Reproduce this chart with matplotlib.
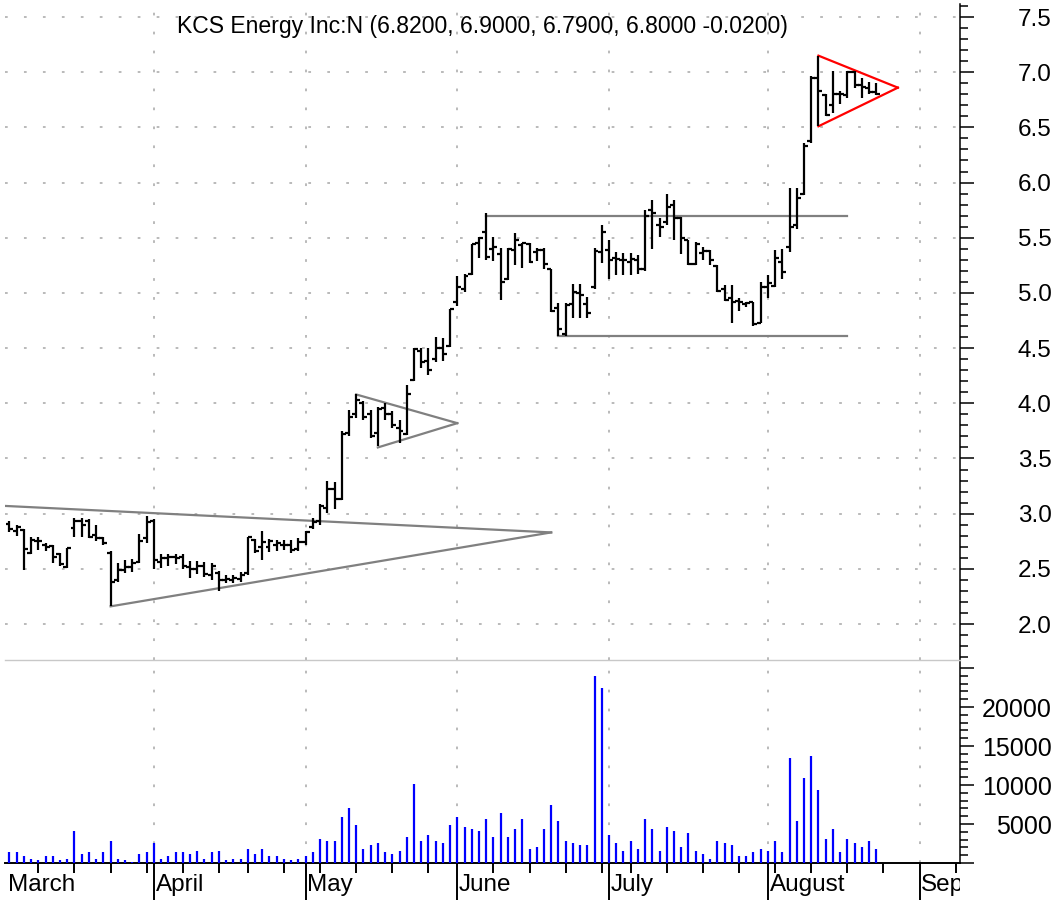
import matplotlib
matplotlib.use('Agg')
import matplotlib.pyplot as plt
from matplotlib.ticker import FixedLocator, MultipleLocator, FormatStrFormatter, FuncFormatter
from matplotlib.transforms import Bbox, TransformedBbox
import numpy as np
import pandas as pd

plt.rcParams['font.family'] = ['Liberation Sans', 'DejaVu Sans']

title = 'KCS Energy Inc:N (6.8200, 6.9000, 6.7900, 6.8000 -0.0200)'
first_day = '2003-03-04'
last_axis_day = '2003-09-08'
holidays = ['2003-04-18', '2003-05-26', '2003-07-04']
month_names = ['March', 'April', 'May', 'June', 'July', 'August', 'Sep']

# daily OHLC (Mar 4 .. Aug 22, 2003)
opens = [2.91, 2.84, 2.85, 2.64, 2.75, 2.72, 2.71, 2.63, 2.52, 2.87,
         2.93, 2.93, 2.81, 2.78, 2.64, 2.40, 2.49, 2.52, 2.56, 2.78,
         2.93, 2.56, 2.60, 2.61, 2.61, 2.52, 2.50, 2.53, 2.44, 2.46,
         2.40, 2.40, 2.41, 2.46, 2.76, 2.70, 2.70, 2.72, 2.72, 2.72,
         2.68, 2.74, 2.88, 2.93, 3.05, 3.22, 3.13, 3.73, 3.90, 4.00,
         3.90, 3.73, 3.96, 3.90, 3.78, 3.72, 4.21, 4.47, 4.38, 4.40,
         4.50, 4.52, 4.92, 5.04, 5.17, 5.45, 5.55, 5.40, 5.35, 5.13,
         5.39, 5.43, 5.44, 5.37, 5.39, 5.22, 4.86, 4.63, 4.90, 5.00,
         4.90, 5.05, 5.37, 5.39, 5.32, 5.30, 5.28, 5.30, 5.22, 5.75,
         5.62, 5.64, 5.80, 5.68, 5.48, 5.26, 5.36, 5.38, 5.24, 5.04,
         4.95, 4.93, 4.90, 4.92, 4.73, 5.05, 5.06, 5.28, 5.42, 5.62,
         5.90, 6.38, 6.95, 6.79, 6.70, 6.80, 6.79, 7.00, 6.88, 6.86,
         6.82]
highs = [2.93, 2.90, 2.86, 2.79, 2.79, 2.73, 2.72, 2.64, 2.69, 2.96,
         2.96, 2.95, 2.90, 2.79, 2.66, 2.55, 2.58, 2.59, 2.82, 2.98,
         2.95, 2.63, 2.63, 2.63, 2.63, 2.57, 2.57, 2.56, 2.55, 2.48,
         2.44, 2.44, 2.47, 2.79, 2.77, 2.84, 2.77, 2.76, 2.76, 2.76,
         2.78, 2.84, 2.96, 3.09, 3.30, 3.29, 3.75, 3.94, 4.08, 4.02,
         3.94, 3.97, 4.00, 3.93, 3.85, 4.17, 4.50, 4.50, 4.50, 4.60,
         4.59, 4.85, 5.15, 5.17, 5.44, 5.51, 5.72, 5.51, 5.41, 5.41,
         5.54, 5.45, 5.45, 5.41, 5.41, 5.22, 4.91, 4.91, 5.08, 5.08,
         4.96, 5.41, 5.62, 5.48, 5.37, 5.36, 5.36, 5.34, 5.75, 5.84,
         5.68, 5.90, 5.84, 5.69, 5.48, 5.46, 5.42, 5.39, 5.25, 5.07,
         5.07, 4.95, 4.92, 4.92, 5.10, 5.16, 5.39, 5.40, 5.95, 5.95,
         6.36, 6.97, 7.15, 6.80, 7.01, 6.83, 7.01, 7.01, 6.95, 6.91,
         6.90]
lows = [2.83, 2.80, 2.49, 2.63, 2.67, 2.66, 2.55, 2.53, 2.51, 2.79,
        2.79, 2.78, 2.75, 2.72, 2.16, 2.38, 2.46, 2.47, 2.55, 2.73,
        2.50, 2.51, 2.53, 2.54, 2.50, 2.42, 2.45, 2.43, 2.40, 2.30,
        2.37, 2.37, 2.38, 2.44, 2.64, 2.58, 2.65, 2.66, 2.67, 2.64,
        2.66, 2.72, 2.86, 2.90, 3.01, 3.04, 3.12, 3.70, 3.87, 3.85,
        3.69, 3.61, 3.85, 3.78, 3.64, 3.71, 4.20, 4.32, 4.26, 4.37,
        4.38, 4.51, 4.88, 5.01, 5.16, 5.32, 5.30, 5.29, 4.94, 5.12,
        5.25, 5.23, 5.27, 5.29, 5.22, 4.83, 4.61, 4.61, 4.77, 4.77,
        4.77, 5.04, 5.27, 5.13, 5.16, 5.16, 5.16, 5.17, 5.20, 5.40,
        5.51, 5.62, 5.48, 5.35, 5.25, 5.25, 5.30, 5.25, 5.01, 4.93,
        4.73, 4.84, 4.87, 4.70, 4.73, 4.95, 5.05, 5.13, 5.37, 5.58,
        5.89, 6.36, 6.51, 6.60, 6.63, 6.71, 6.77, 6.86, 6.77, 6.80,
        6.79]
closes = [2.86, 2.88, 2.68, 2.76, 2.75, 2.70, 2.61, 2.54, 2.69, 2.93,
          2.90, 2.79, 2.78, 2.73, 2.38, 2.49, 2.52, 2.55, 2.75, 2.92,
          2.58, 2.60, 2.61, 2.60, 2.53, 2.50, 2.53, 2.45, 2.53, 2.40,
          2.41, 2.42, 2.44, 2.79, 2.66, 2.74, 2.75, 2.73, 2.72, 2.67,
          2.74, 2.83, 2.92, 3.07, 3.22, 3.13, 3.72, 3.88, 4.03, 3.88,
          3.70, 3.95, 3.90, 3.80, 3.75, 4.08, 4.49, 4.37, 4.30, 4.50,
          4.45, 4.85, 5.05, 5.15, 5.44, 5.50, 5.33, 5.42, 5.10, 5.40,
          5.48, 5.45, 5.28, 5.39, 5.26, 4.84, 4.67, 4.89, 5.01, 4.98,
          4.82, 5.38, 5.55, 5.30, 5.31, 5.30, 5.31, 5.22, 5.70, 5.72,
          5.60, 5.78, 5.68, 5.50, 5.26, 5.44, 5.38, 5.30, 5.02, 4.94,
          4.92, 4.92, 4.91, 4.72, 5.05, 5.09, 5.32, 5.19, 5.60, 5.86,
          6.33, 6.95, 6.83, 6.61, 6.80, 6.80, 7.00, 6.88, 6.87, 6.82,
          6.80]
volume = [1350, 1350, 870, 565, 350, 870, 870, 350, 565, 4130,
          1090, 1350, 565, 1350, 2830, 565, 350, 130, 1090, 1350,
          2610, 565, 870, 1350, 1350, 1090, 1570, 565, 1350, 1570,
          350, 565, 565, 1830, 1090, 1830, 870, 870, 565, 350,
          565, 870, 1350, 3090, 2830, 2830, 5870, 7090, 4870, 1830,
          2350, 2610, 1350, 1090, 1570, 3350, 10140, 2830, 3610, 2830,
          2610, 4870, 5870, 4610, 4350, 4090, 5610, 3350, 6350, 3350,
          4350, 5610, 1830, 2090, 4350, 7400, 5350, 2830, 2610, 2350,
          2350, 23970, 22450, 3610, 2610, 1570, 2830, 1830, 5610, 4350,
          1570, 4610, 4090, 2090, 3870, 1570, 1090, 565, 2830, 2610,
          2350, 870, 870, 1350, 1830, 1570, 2830, 1350, 13400, 5350,
          10920, 13660, 9400, 3090, 4350, 1350, 3090, 2610, 2090, 2830,
          1830]

# drawn trend lines: (start day, start price, end day, end price)
gray_lines = [(-0.6, 3.07, 75, 2.83), (14, 2.16, 75, 2.83),
              (48, 4.08, 62, 3.82), (51, 3.60, 62, 3.82),
              (66, 5.70, 116, 5.70), (76, 4.61, 116, 4.61)]
red_lines = [(112, 7.15, 123, 6.86), (112, 6.51, 123, 6.86)]

# trading-day axis
days = pd.bdate_range(first_day, last_axis_day).drop(pd.to_datetime(holidays))
idx = np.arange(len(days))
month_start = [i for i in range(1, len(days)) if days[i].month != days[i - 1].month]
week_start = [i for i in range(1, len(days))
              if days[i].isocalendar()[1] != days[i - 1].isocalendar()[1]
              and i not in month_start]

W, H = 1061, 900
fig = plt.figure(figsize=(W / 100, H / 100), dpi=100)
ax_p = fig.add_axes([5 / W, 1 - 660 / H, 955 / W, 656 / H])
ax_v = fig.add_axes([5 / W, 1 - 863 / H, 955 / W, 201 / H])

xlim = (-0.62, 131.6)
grid_kw = dict(color='#b4b4b4', linestyle=(0, (1.5, 9)), linewidth=1.3, zorder=0)

# ---- price panel
x = idx[:len(closes)]
ax_p.vlines(x, lows, highs, color='black', lw=1.6, zorder=3)
ax_p.hlines(opens, x - 0.55, x, color='black', lw=1.6, zorder=3)
ax_p.hlines(closes, x, x + 0.55, color='black', lw=1.6, zorder=3)
for x0, y0, x1, y1 in gray_lines:
    ax_p.plot([x0, x1], [y0, y1], color='#808080', lw=1.6, zorder=2)
for x0, y0, x1, y1 in red_lines:
    ax_p.plot([x0, x1], [y0, y1], color='#ff0000', lw=1.6, zorder=2)

ax_p.set_xlim(xlim)
ax_p.set_ylim(1.674, 7.618)
for p in np.arange(2.0, 7.51, 0.5):
    ax_p.axhline(p, **grid_kw)
for m in month_start:
    ax_p.axvline(m, **grid_kw)
    ax_v.axvline(m, **grid_kw)

for s in ['left', 'top']:
    ax_p.spines[s].set_visible(False)
ax_p.spines['bottom'].set_color('#c8c8c8')
ax_p.spines['bottom'].set_linewidth(1.0)
ax_p.spines['right'].set_linewidth(1.1)
ax_p.set_xticks([])
ax_p.yaxis.tick_right()
ax_p.yaxis.set_major_locator(MultipleLocator(0.5))
ax_p.yaxis.set_minor_locator(MultipleLocator(0.1))
ax_p.yaxis.set_major_formatter(FormatStrFormatter('%.1f'))
ax_p.tick_params(axis='y', which='major', length=10, width=1.1, pad=56, labelsize=17.5)
ax_p.tick_params(axis='y', which='minor', length=5.5, width=1.1)
for lab in ax_p.get_yticklabels():
    lab.set_horizontalalignment('right')

fig.text(177 / W, 1 - 26 / H, title, fontsize=16.6, ha='left', va='center')

# ---- volume panel
ax_v.vlines(x, 0, volume, color='#0000ff', lw=1.6, zorder=3)
ax_v.set_xlim(xlim)
ax_v.set_ylim(0, 25770)
for s in ['left', 'top']:
    ax_v.spines[s].set_visible(False)
ax_v.spines['bottom'].set_linewidth(1.4)
ax_v.spines['right'].set_linewidth(1.1)
ax_v.yaxis.tick_right()
ax_v.yaxis.set_major_locator(MultipleLocator(5000))
ax_v.yaxis.set_minor_locator(MultipleLocator(1000))
ax_v.yaxis.set_major_formatter(FuncFormatter(lambda v, _: '%d' % v if 0 < v <= 20000 else ''))
ax_v.tick_params(axis='y', which='major', length=10, width=1.1, pad=56, labelsize=18)
ax_v.tick_params(axis='y', which='minor', length=5.5, width=1.1)
for lab in ax_v.get_yticklabels():
    lab.set_horizontalalignment('right')

ax_v.xaxis.set_major_locator(FixedLocator(month_start))
ax_v.xaxis.set_minor_locator(FixedLocator(week_start))
ax_v.tick_params(axis='x', which='major', length=27, width=1.4, labelbottom=False)
ax_v.tick_params(axis='x', which='minor', length=7, width=1.4)

# month names sit right of their tick; the last one is cut at the axis end
label_clip = TransformedBbox(Bbox([[0, 0], [960 / W, 1]]), fig.transFigure)
label_pos = [-0.25] + [m + 0.25 for m in month_start]
for pos, name in zip(label_pos, month_names):
    t = ax_v.text(pos, -0.11, name, transform=ax_v.get_xaxis_transform(),
                  fontsize=17.5, ha='left', va='center')
    t.set_clip_box(label_clip)
    t.set_clip_on(True)

fig.savefig('out.png', dpi=100)
